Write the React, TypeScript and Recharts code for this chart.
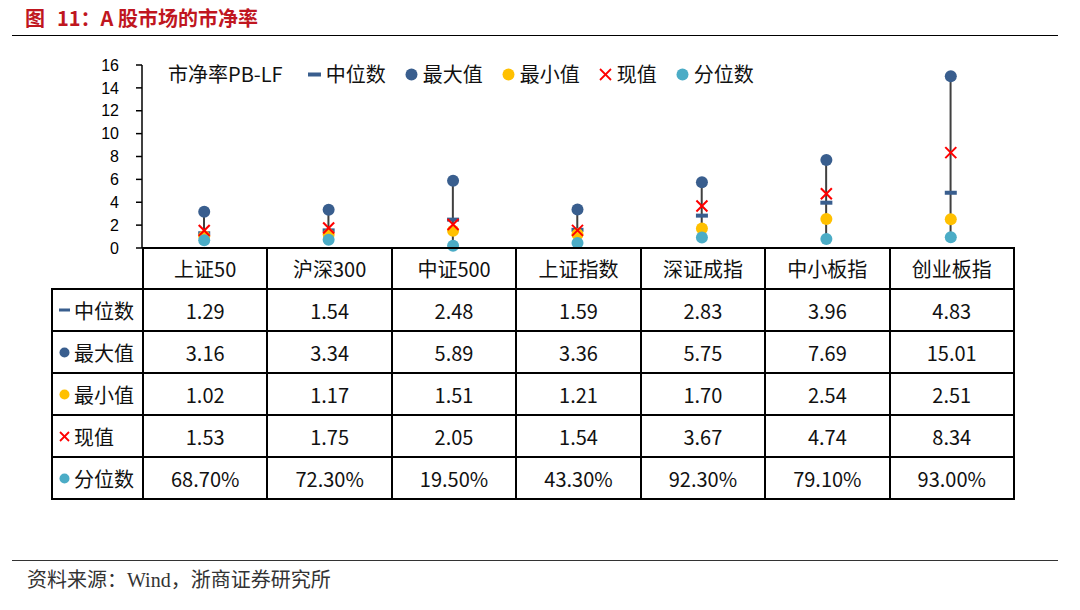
import React from 'react';
import { ComposedChart, Bar, Line, XAxis, YAxis } from 'recharts';

const CATEGORIES = ['上证50', '沪深300', '中证500', '上证指数', '深证成指', '中小板指', '创业板指'];
const MEDIAN = [1.29, 1.54, 2.48, 1.59, 2.83, 3.96, 4.83];
const MAX_V = [3.16, 3.34, 5.89, 3.36, 5.75, 7.69, 15.01];
const MIN_V = [1.02, 1.17, 1.51, 1.21, 1.7, 2.54, 2.51];
const CURRENT = [1.53, 1.75, 2.05, 1.54, 3.67, 4.74, 8.34];
const PERCENTILE = [68.7, 72.3, 19.5, 43.3, 92.3, 79.1, 93.0];
const Y_TICKS = [0, 2, 4, 6, 8, 10, 12, 14, 16];

const C_BLUE = '#395E8E';
const C_YELLOW = '#FFC000';
const C_RED = '#FF0000';
const C_CYAN = '#4BACC6';
const CJK = "'Noto Sans CJK SC', 'Noto Sans', sans-serif";

// plot area spans the 7 table columns
const PLOT_LEFT = 142;
const PLOT_RIGHT = 1013;
const COL_W = (PLOT_RIGHT - PLOT_LEFT) / CATEGORIES.length;

const data = CATEGORIES.map((name, i) => {
  const pct = PERCENTILE[i] / 100;
  const all = [MEDIAN[i], MAX_V[i], MIN_V[i], CURRENT[i], pct];
  return {
    name,
    median: MEDIAN[i],
    max: MAX_V[i],
    min: MIN_V[i],
    current: CURRENT[i],
    pct,
    range: [Math.min(...all), Math.max(...all)],
  };
});

const circleDot = (fill: string) => (p: any) => (
  <circle key={p.index} cx={p.cx} cy={p.cy} r={6} fill={fill} />
);
const dashDot = (p: any) => (
  <rect key={p.index} x={p.cx - 6} y={p.cy - 2} width={12} height={4} fill={C_BLUE} />
);
const crossDot = (p: any) => (
  <g key={p.index} stroke={C_RED} strokeWidth={2}>
    <line x1={p.cx - 5.5} y1={p.cy - 5.5} x2={p.cx + 5.5} y2={p.cy + 5.5} />
    <line x1={p.cx - 5.5} y1={p.cy + 5.5} x2={p.cx + 5.5} y2={p.cy - 5.5} />
  </g>
);
const hiLow = (p: any) => (
  <line x1={p.x + p.width / 2} x2={p.x + p.width / 2} y1={p.y} y2={p.y + p.height} stroke="#404040" strokeWidth={2} />
);

function Marker({ kind, small }: { kind: string; small?: boolean }) {
  const s = small ? 11 : 13;
  return (
    <svg width={s} height={s} style={{ display: 'block', flex: 'none' }}>
      {kind === 'dash' && <rect x={0} y={s / 2 - 2} width={s} height={small ? 3 : 4} fill={C_BLUE} />}
      {kind === 'max' && <circle cx={s / 2} cy={s / 2} r={s / 2 - 0.5} fill={C_BLUE} />}
      {kind === 'min' && <circle cx={s / 2} cy={s / 2} r={s / 2 - 0.5} fill={C_YELLOW} />}
      {kind === 'pct' && <circle cx={s / 2} cy={s / 2} r={s / 2 - 0.5} fill={C_CYAN} />}
      {kind === 'cur' && (
        <g stroke={C_RED} strokeWidth={1.8}>
          <line x1={1} y1={1} x2={s - 1} y2={s - 1} />
          <line x1={1} y1={s - 1} x2={s - 1} y2={1} />
        </g>
      )}
    </svg>
  );
}

const SERIES = [
  { kind: 'dash', label: '中位数', values: MEDIAN.map((v) => v.toFixed(2)) },
  { kind: 'max', label: '最大值', values: MAX_V.map((v) => v.toFixed(2)) },
  { kind: 'min', label: '最小值', values: MIN_V.map((v) => v.toFixed(2)) },
  { kind: 'cur', label: '现值', values: CURRENT.map((v) => v.toFixed(2)) },
  { kind: 'pct', label: '分位数', values: PERCENTILE.map((v) => v.toFixed(2) + '%') },
];

const cell: React.CSSProperties = {
  border: '2px solid #000',
  textAlign: 'center',
  padding: 0,
  color: '#111',
};

export default function App() {
  return (
    <div style={{ position: 'absolute', left: 0, top: 0, width: 1080, height: 610, background: '#fff', overflow: 'hidden' }}>
      <div style={{ position: 'absolute', left: 25, top: 4, fontFamily: CJK, fontWeight: 700, fontSize: 20, color: '#C0161F', lineHeight: '28px', whiteSpace: 'nowrap' }}>
        图<span style={{ marginLeft: 12 }}>11：A 股市场的市净率</span>
      </div>
      <div style={{ position: 'absolute', left: 12, top: 35, width: 1046, height: 1, background: '#000' }} />

      <ComposedChart
        width={1080}
        height={260}
        data={data}
        margin={{ top: 65, right: 1080 - PLOT_RIGHT, bottom: 12, left: PLOT_LEFT - 60 }}
        style={{ position: 'absolute', left: 0, top: 0 }}
      >
        <XAxis dataKey="name" hide />
        <YAxis
          domain={[0, 16]}
          ticks={Y_TICKS}
          interval={0}
          width={60}
          tick={{ fill: '#000', fontSize: 16, fontFamily: "'Liberation Sans', Arial, sans-serif" }}
          axisLine={{ stroke: '#000', strokeWidth: 1.5 }}
          tickLine={{ stroke: '#000', strokeWidth: 1.5 }}
          tickSize={6}
          tickMargin={17}
        />
        <Bar dataKey="range" barSize={10} shape={hiLow} isAnimationActive={false} />
        <Line dataKey="median" stroke="none" dot={dashDot} activeDot={false} isAnimationActive={false} />
        <Line dataKey="max" stroke="none" dot={circleDot(C_BLUE)} activeDot={false} isAnimationActive={false} />
        <Line dataKey="min" stroke="none" dot={circleDot(C_YELLOW)} activeDot={false} isAnimationActive={false} />
        <Line dataKey="current" stroke="none" dot={crossDot} activeDot={false} isAnimationActive={false} />
        <Line dataKey="pct" stroke="none" dot={circleDot(C_CYAN)} activeDot={false} isAnimationActive={false} />
      </ComposedChart>

      <div style={{ position: 'absolute', left: 168, top: 60, display: 'flex', alignItems: 'center', fontFamily: CJK, fontSize: 20, color: '#111', lineHeight: '28px', whiteSpace: 'nowrap' }}>
        <span style={{ marginRight: 25 }}>市净率PB-LF</span>
        {SERIES.map((s) => (
          <div key={s.kind} style={{ display: 'flex', alignItems: 'center', marginRight: 19 }}>
            <Marker kind={s.kind} />
            <span style={{ marginLeft: 5 }}>{s.label}</span>
          </div>
        ))}
      </div>

      <table
        style={{
          position: 'absolute',
          left: 51,
          top: 247,
          borderCollapse: 'collapse',
          tableLayout: 'fixed',
          width: PLOT_RIGHT - 51,
          fontFamily: CJK,
          fontSize: 20,
        }}
      >
        <colgroup>
          <col style={{ width: PLOT_LEFT - 51 }} />
          {CATEGORIES.map((c) => (
            <col key={c} style={{ width: COL_W }} />
          ))}
        </colgroup>
        <tbody>
          <tr style={{ height: 41 }}>
            <td style={{ padding: 0, border: 'none' }} />
            {CATEGORIES.map((c) => (
              <td key={c} style={cell}>{c}</td>
            ))}
          </tr>
          {SERIES.map((s) => (
            <tr key={s.kind} style={{ height: 42 }}>
              <td style={{ ...cell, textAlign: 'left' }}>
                <div style={{ display: 'flex', alignItems: 'center', paddingLeft: 6 }}>
                  <Marker kind={s.kind} small />
                  <span style={{ marginLeft: 4 }}>{s.label}</span>
                </div>
              </td>
              {s.values.map((v, i) => (
                <td key={i} style={cell}>{v}</td>
              ))}
            </tr>
          ))}
        </tbody>
      </table>

      <div style={{ position: 'absolute', left: 12, top: 560, width: 1046, height: 1, background: '#333' }} />
      <div style={{ position: 'absolute', left: 27, top: 566, fontFamily: "'Liberation Serif', 'Noto Sans CJK SC', serif", fontSize: 20, color: '#333', lineHeight: '28px', whiteSpace: 'nowrap' }}>
        资料来源：Wind，浙商证券研究所
      </div>
    </div>
  );
}
